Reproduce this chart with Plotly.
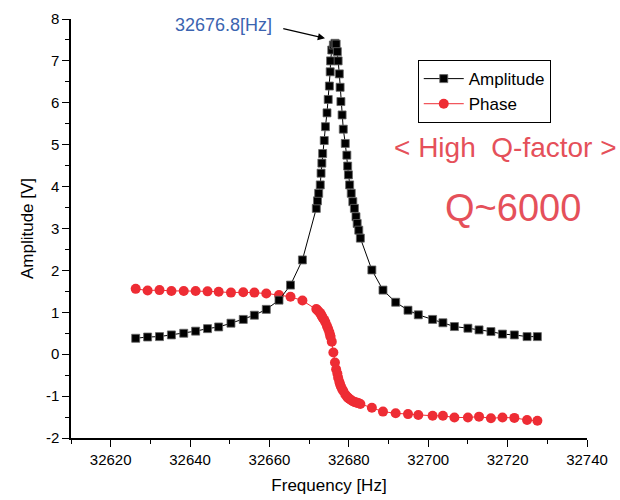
import plotly.graph_objects as go

freq = [32626.3, 32629.3, 32632.3, 32635.3, 32638.4, 32641.4, 32644.4, 32647.2, 32650.3, 32653.4,
        32656.2, 32659.2, 32662.4, 32665.3, 32668.3,
        32671.8, 32672.1, 32672.4, 32672.8, 32673.0, 32673.2, 32673.4, 32673.8, 32674.1, 32674.5,
        32674.8, 32675.1, 32675.3, 32675.4, 32675.7, 32676.1, 32676.5, 32676.8,
        32677.1, 32677.3, 32677.6, 32677.8, 32678.0, 32678.3, 32678.6, 32679.1, 32679.5, 32679.7,
        32679.9, 32680.2, 32680.6, 32681.0, 32681.4, 32681.8, 32682.1, 32682.5, 32682.9,
        32685.8, 32688.6, 32691.8, 32694.9, 32697.5, 32701.1, 32703.7, 32706.6, 32710.0, 32712.8,
        32715.8, 32718.7, 32721.7, 32724.9, 32727.5]

amplitude = [0.38, 0.41, 0.42, 0.46, 0.50, 0.55, 0.61, 0.65, 0.74, 0.83,
             0.93, 1.07, 1.29, 1.65, 2.25,
             3.48, 3.66, 3.84, 4.04, 4.32, 4.56, 4.79, 5.10, 5.43, 5.76,
             6.08, 6.40, 6.74, 7.00, 7.26, 7.38, 7.42, 7.40,
             7.22, 7.00, 6.69, 6.37, 6.03, 5.71, 5.37, 5.03, 4.75, 4.49,
             4.28, 4.04, 3.84, 3.64, 3.48, 3.28, 3.12, 2.96, 2.77,
             2.01, 1.53, 1.24, 1.05, 0.94, 0.83, 0.75, 0.66, 0.62, 0.58,
             0.54, 0.48, 0.46, 0.42, 0.42]

phase = [1.56, 1.52, 1.53, 1.51, 1.51, 1.51, 1.50, 1.49, 1.47, 1.48,
         1.47, 1.45, 1.41, 1.37, 1.28,
         1.08, 1.05, 1.02, 0.98, 0.94, 0.91, 0.87, 0.82, 0.76, 0.67,
         0.60, 0.52, 0.45, 0.41, 0.30, 0.04, -0.20, -0.36,
         -0.46, -0.56, -0.66, -0.72, -0.77, -0.83, -0.88, -0.96, -1.01, -1.03,
         -1.05, -1.07, -1.10, -1.12, -1.14, -1.15, -1.16, -1.17, -1.19,
         -1.28, -1.37, -1.41, -1.43, -1.45, -1.47, -1.47, -1.51, -1.51, -1.49,
         -1.53, -1.51, -1.52, -1.57, -1.59]

x_ticks = [32620, 32640, 32660, 32680, 32700, 32720, 32740]
y_ticks = [-2, -1, 0, 1, 2, 3, 4, 5, 6, 7, 8]

FONT = "Liberation Sans, Arial, sans-serif"
RED = "#EE2C34"

# plot area in pixels (for positioning free-floating text)
PL, PR, PT, PB = 71, 587, 19, 438


def px_to_paper(px, py):
    return (px - PL) / (PR - PL), (PB - py) / (PB - PT)


fig = go.Figure()
fig.add_trace(go.Scatter(
    x=freq, y=phase, name="Phase", mode="lines+markers",
    line=dict(color=RED, width=1),
    marker=dict(symbol="circle", size=10, color=RED, line=dict(width=0)),
))
fig.add_trace(go.Scatter(
    x=freq, y=amplitude, name="Amplitude", mode="lines+markers",
    line=dict(color="black", width=1),
    marker=dict(symbol="square", size=8, color="black", line=dict(color="#666666", width=0.8)),
))

axis_common = dict(
    showgrid=False, zeroline=False, showline=True, linecolor="black", linewidth=1.5,
    ticks="outside", ticklen=7, tickwidth=1.2, tickcolor="black",
    tickfont=dict(family=FONT, size=15, color="black"),
    mirror=False, automargin=False,
)

fig.update_layout(
    width=620, height=500,
    margin=dict(l=PL, r=620 - PR, t=PT, b=500 - PB),
    paper_bgcolor="white", plot_bgcolor="white",
    font=dict(family=FONT, color="black"),
    xaxis=dict(
        range=[32610, 32740], tickvals=x_ticks, ticktext=[str(v) for v in x_ticks],
        minor=dict(dtick=10, tick0=32610, ticks="outside", ticklen=4, tickcolor="black", tickwidth=1),
        title=dict(text="Frequency [Hz]", font=dict(family=FONT, size=17), standoff=12),
        **axis_common,
    ),
    yaxis=dict(
        range=[-2, 8], tickvals=y_ticks, ticktext=[str(v) for v in y_ticks],
        minor=dict(dtick=0.5, tick0=0, ticks="outside", ticklen=4, tickcolor="black", tickwidth=1),
        title=dict(text="Amplitude [V]", font=dict(family=FONT, size=17), standoff=8),
        **axis_common,
    ),
    legend=dict(
        x=0.672, y=0.902, xanchor="left", yanchor="top",
        bordercolor="black", borderwidth=1, bgcolor="white",
        font=dict(family=FONT, size=17, color="black"),
        traceorder="reversed", itemwidth=40, tracegroupgap=0,
    ),
    showlegend=True,
)

ax_, ay_ = px_to_paper(223, 25)
fig.add_annotation(x=ax_, y=ay_, xref="paper", yref="paper", xanchor="center", yanchor="middle",
                   text="32676.8[Hz]", showarrow=False,
                   font=dict(family=FONT, size=18, color="#3B64B0"))
fig.add_annotation(x=32674.0, y=7.54, xref="x", yref="y", ax=32663.1, ay=7.78,
                   axref="x", ayref="y", text="", showarrow=True,
                   arrowhead=2, arrowsize=1.2, arrowwidth=1.2, arrowcolor="black")
qx, qy = px_to_paper(505, 148)
fig.add_annotation(x=qx, y=qy, xref="paper", yref="paper", xanchor="center", yanchor="middle",
                   text="&lt; High  Q-factor &gt;", showarrow=False,
                   font=dict(family=FONT, size=28, color="#E5505A"))
qx2, qy2 = px_to_paper(513, 208)
fig.add_annotation(x=qx2, y=qy2, xref="paper", yref="paper", xanchor="center", yanchor="middle",
                   text="Q~6000", showarrow=False,
                   font=dict(family=FONT, size=38, color="#E5505A"))

fig.write_html("out.html")
